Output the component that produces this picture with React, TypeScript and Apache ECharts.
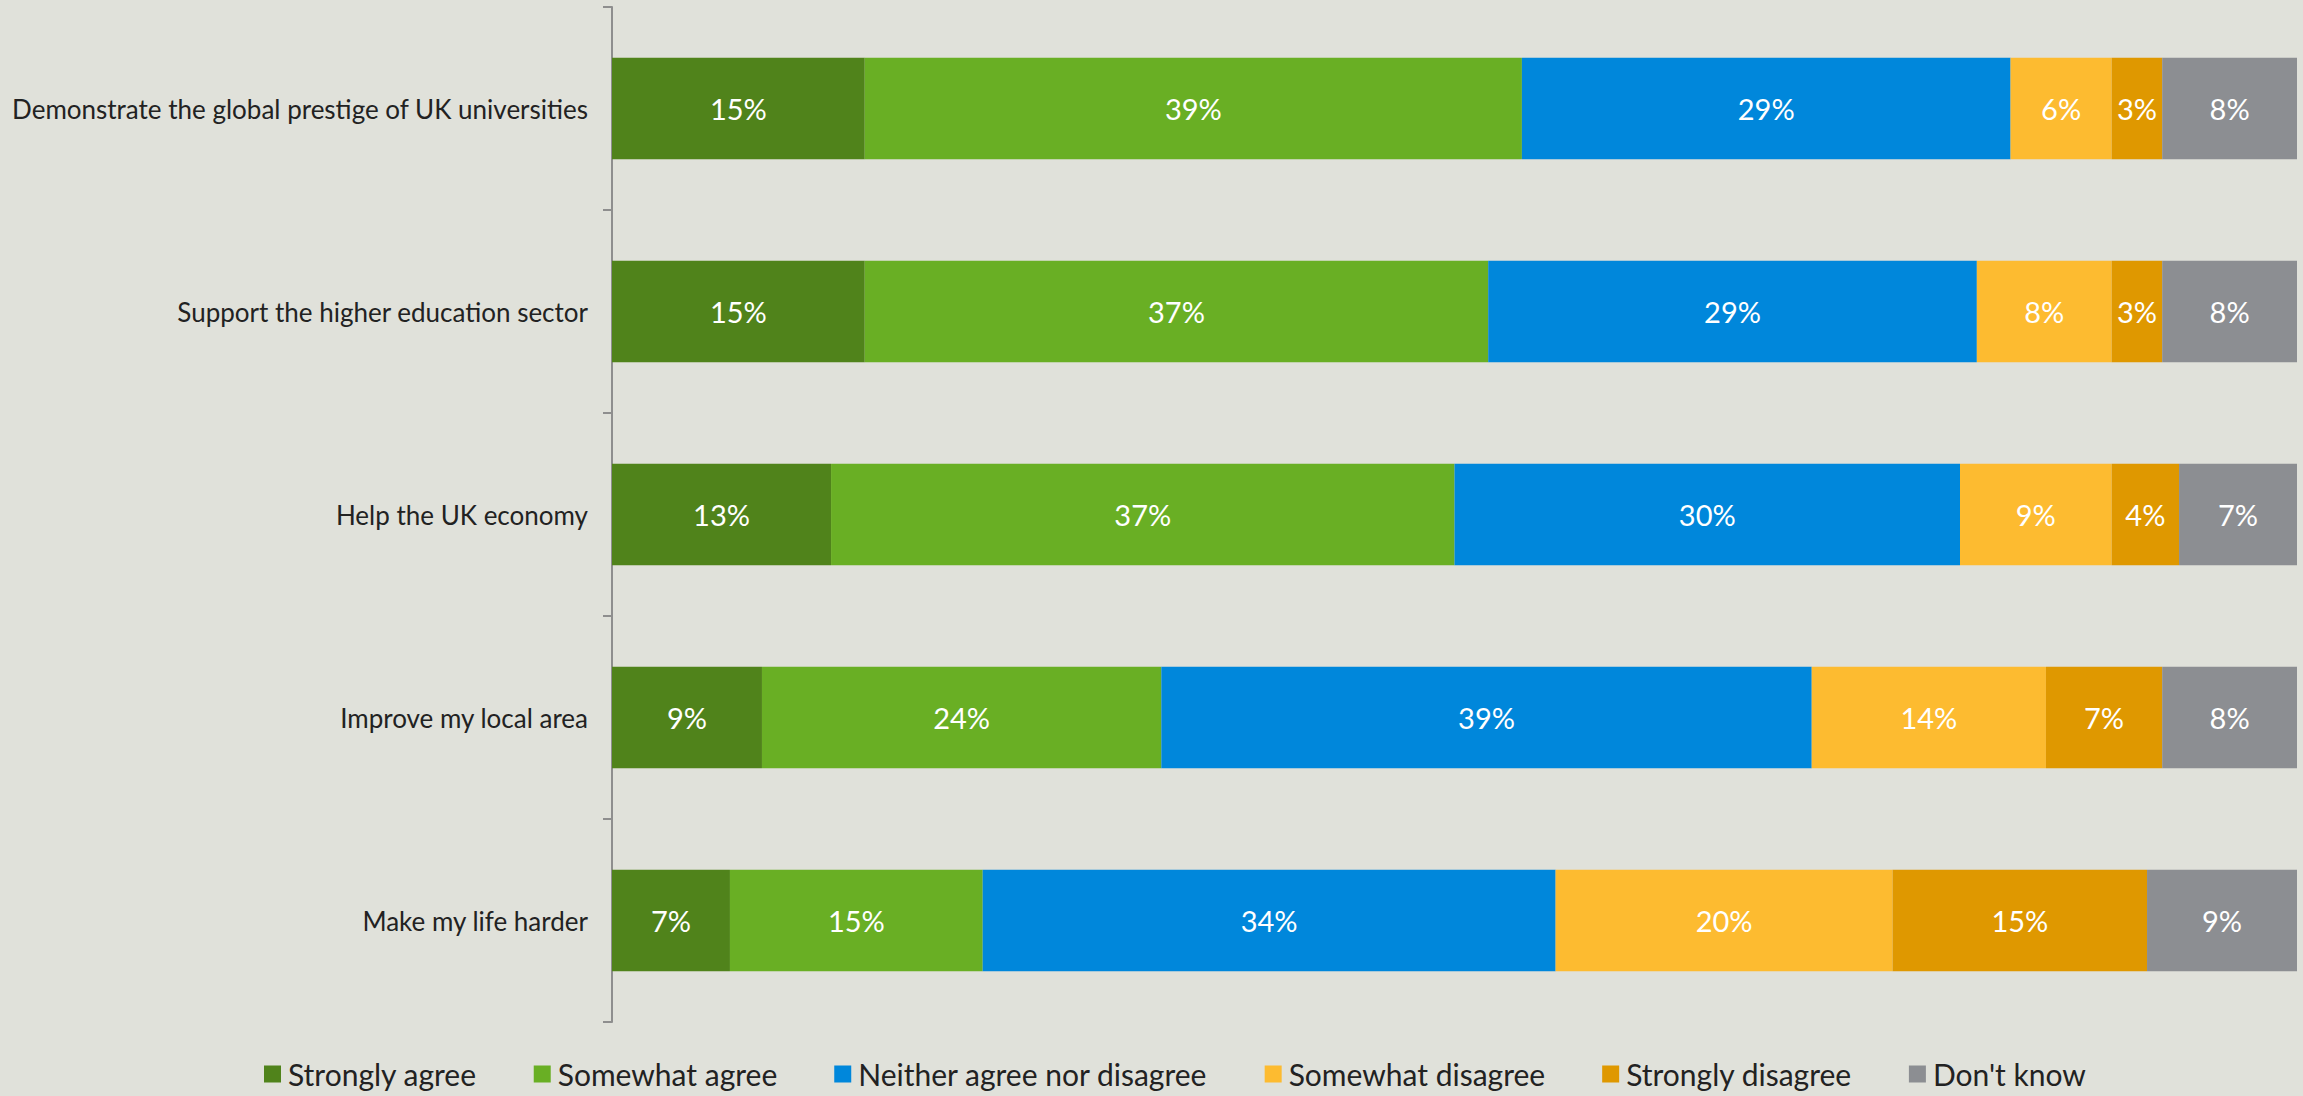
import React, { useEffect, useRef } from "react";
import * as echarts from "echarts";

const categories = [
  "Demonstrate the global prestige of UK universities",
  "Support the higher education sector",
  "Help the UK economy",
  "Improve my local area",
  "Make my life harder",
];

const seriesNames = [
  "Strongly agree",
  "Somewhat agree",
  "Neither agree nor disagree",
  "Somewhat disagree",
  "Strongly disagree",
  "Don't know",
];

const stronglyAgree = [15, 15, 13, 8.9, 7];
const somewhatAgree = [39, 37, 37, 23.7, 15];
const neither = [29, 29, 30, 38.6, 34];
const somewhatDisagree = [6, 8, 9, 13.9, 20];
const stronglyDisagree = [3, 3, 4, 6.9, 15.1];
const dontKnow = [8, 8, 7, 8, 8.9];

const seriesValues = [
  stronglyAgree,
  somewhatAgree,
  neither,
  somewhatDisagree,
  stronglyDisagree,
  dontKnow,
];

const colors = ["#50831B", "#69AF24", "#0087DB", "#FDBB30", "#DF9800", "#8C8E92"];

const FONT = "Lato, 'Noto Sans', sans-serif";

export default function App() {
  const ref = useRef<HTMLDivElement>(null);

  useEffect(() => {
    if (!ref.current) return;
    const chart = echarts.init(ref.current, null, { renderer: "svg" });
    chart.setOption({
      animation: false,
      backgroundColor: "#E0E1DA",
      color: colors,
      grid: { left: 612, right: 6, top: 7, bottom: 74, containLabel: false },
      legend: {
        bottom: 2,
        left: 259,
        itemWidth: 17,
        itemHeight: 17,
        itemGap: 57,
        icon: "rect",
        textStyle: { fontFamily: FONT, fontSize: 30, color: "#222222", padding: [0, 0, 0, 2] },
        data: seriesNames,
      },
      xAxis: {
        type: "value",
        min: 0,
        max: 100,
        show: false,
      },
      yAxis: {
        type: "category",
        inverse: true,
        data: categories,
        axisLine: { show: true, lineStyle: { color: "#8E8E8E", width: 2 } },
        axisTick: { show: true, length: 9, lineStyle: { color: "#8E8E8E", width: 2 } },
        axisLabel: {
          margin: 24,
          fontFamily: FONT,
          fontSize: 26,
          color: "#222222",
        },
        splitLine: { show: false },
      },
      series: seriesNames.map((name, i) => ({
        name,
        type: "bar",
        stack: "total",
        barCategoryGap: "50%",
        data: seriesValues[i],
        itemStyle: { color: colors[i] },
        label: {
          show: true,
          position: "inside",
          color: "#FFFFFF",
          fontFamily: FONT,
          fontSize: 29,
          formatter: (p: any) => Math.round(p.value) + "%",
        },
      })),
    });
    return () => chart.dispose();
  }, []);

  return (
    <div
      ref={ref}
      style={{ position: "fixed", left: 0, top: 0, width: 2303, height: 1096 }}
    />
  );
}
